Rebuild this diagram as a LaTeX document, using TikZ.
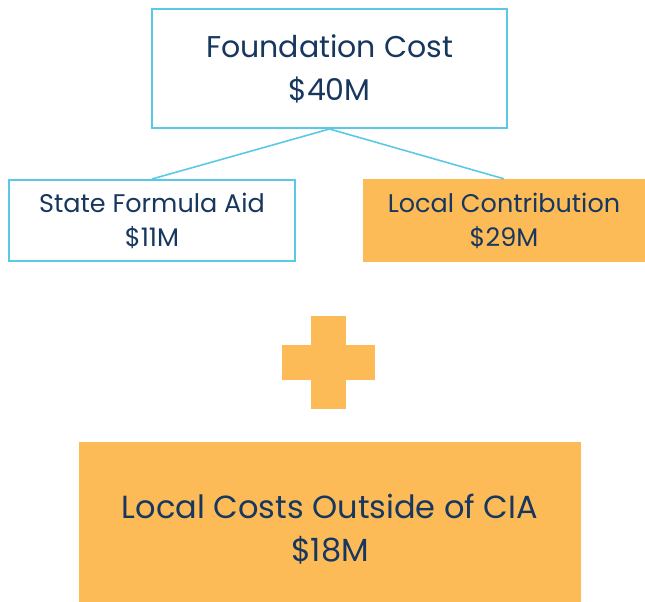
\documentclass[tikz,border=0pt]{standalone}
\usepackage{fontspec}
\setmainfont{Poppins}
\usepackage{tikz}

\definecolor{costblue}{HTML}{5BC8E6}
\definecolor{costorange}{HTML}{FDBB58}
\definecolor{costtext}{HTML}{17375E}

\begin{document}
\begin{tikzpicture}[x=1pt, y=-1pt,
    every node/.style={text=costtext, align=center, inner sep=0pt},
    costbox/.style={draw=costblue, line width=2pt, fill=white},
    localbox/.style={fill=costorange},
    bigtext/.style={font=\fontsize{30}{43}\selectfont},
    smalltext/.style={font=\fontsize{25.5}{34}\selectfont},
    hugetext/.style={font=\fontsize{32}{43}\selectfont},
    ]
  \useasboundingbox (0,0) rectangle (645,602);
  % boxes
  \node[costbox, bigtext, minimum width=355pt, minimum height=119pt] (total) at (329.5,68.5) {Foundation Cost\\\$40M};
  \node[costbox, smalltext, minimum width=286pt, minimum height=81pt] (state) at (152,220.5) {State Formula Aid\\\$11M};
  \node[localbox, smalltext, minimum width=282pt, minimum height=83pt] (local) at (504,220.5) {Local Contribution\\\$29M};
  % connectors
  \draw[costblue, line width=1.6pt] (total.south) -- (state.north);
  \draw[costblue, line width=1.6pt] (total.south) -- (local.north);
  % plus sign
  \fill[costorange] (311,316) rectangle (346,409);
  \fill[costorange] (282,345) rectangle (375,380);
  \node[localbox, minimum width=502pt, minimum height=160pt,
    label={[hugetext, yshift=-7pt]center:Local Costs Outside of CIA\\\$18M}] (outside) at (330,522) {};
\end{tikzpicture}
\end{document}
